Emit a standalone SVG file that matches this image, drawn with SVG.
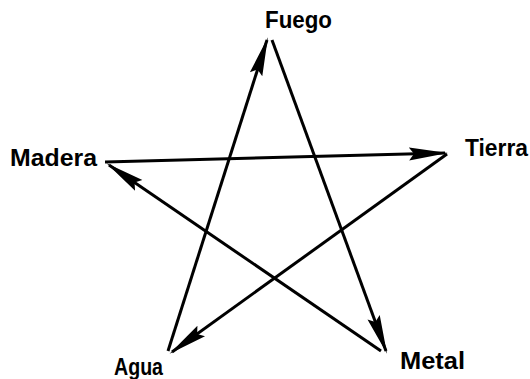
<svg xmlns="http://www.w3.org/2000/svg" width="530" height="379" viewBox="0 0 530 379">
  <style>
    .lbl { font-family: "Liberation Sans", Arial, sans-serif; font-weight: bold; font-size: 23px; fill: #000; }
    .edge { stroke: #000; stroke-width: 3; fill: none; marker-end: url(#arrow); }
  </style>
  <defs>
    <marker id="arrow" markerUnits="userSpaceOnUse" viewBox="0 -8 40 16" markerWidth="40" markerHeight="16" refX="36" refY="0" orient="auto">
      <path d="M0,-6.5 L39,0 L0,6.5 L5,0 Z" fill="#000"/>
    </marker>
  </defs>
  <rect width="530" height="379" fill="#fff"/>
  <g id="connectors">
    <line class="edge" x1="105" y1="162" x2="445" y2="153"/>
    <line class="edge" x1="447" y1="154" x2="172" y2="352"/>
    <line class="edge" x1="168" y1="351" x2="267" y2="40"/>
    <line class="edge" x1="272" y1="40" x2="386" y2="351"/>
    <line class="edge" x1="381" y1="351" x2="109" y2="165"/>
  </g>
  <g id="fuego"><text class="lbl" x="265" y="28" textLength="67" lengthAdjust="spacingAndGlyphs">Fuego</text></g>
  <g id="tierra"><text class="lbl" x="465" y="156" textLength="63" lengthAdjust="spacingAndGlyphs">Tierra</text></g>
  <g id="metal"><text class="lbl" x="400" y="369" textLength="65" lengthAdjust="spacingAndGlyphs">Metal</text></g>
  <g id="agua"><text class="lbl" x="114" y="375" textLength="49" lengthAdjust="spacingAndGlyphs">Agua</text></g>
  <g id="madera"><text class="lbl" x="10" y="166" textLength="87" lengthAdjust="spacingAndGlyphs">Madera</text></g>
</svg>
